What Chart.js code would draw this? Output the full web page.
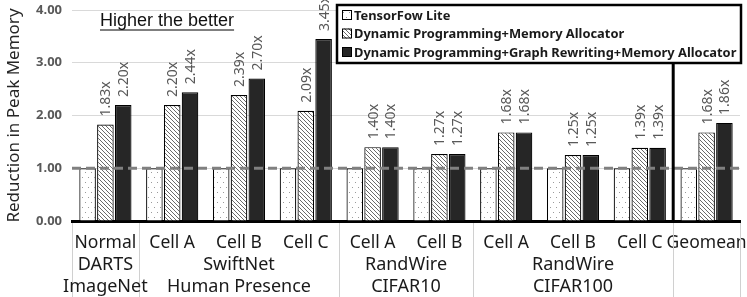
<!DOCTYPE html>
<html>
<head>
<meta charset="utf-8">
<script src="https://cdn.jsdelivr.net/npm/chart.js@4/dist/chart.umd.min.js"></script>
<style>
  html, body { margin: 0; padding: 0; background: #ffffff; }
  #memoryChart { display: block; }
</style>
</head>
<body>
<canvas id="memoryChart" width="747" height="297"></canvas>
<script>
// ---- data ----
const categories = ['Normal', 'Cell A', 'Cell B', 'Cell C', 'Cell A', 'Cell B', 'Cell A', 'Cell B', 'Cell C', 'Geomean'];
const groupStarts = [0, 1, 4, 6, 9];
const groupEnds = [0, 3, 5, 8, 9];
const groupLine2 = ['DARTS', 'SwiftNet', 'RandWire', 'RandWire', ''];
const groupLine3 = ['ImageNet', 'Human Presence', 'CIFAR10', 'CIFAR100', ''];
const seriesNames = ['TensorFow Lite', 'Dynamic Programming+Memory Allocator', 'Dynamic Programming+Graph Rewriting+Memory Allocator'];
const tfliteValues = [1.00, 1.00, 1.00, 1.00, 1.00, 1.00, 1.00, 1.00, 1.00, 1.00];
const dpValues = [1.83, 2.20, 2.39, 2.09, 1.40, 1.27, 1.68, 1.25, 1.39, 1.68];
const dpgrValues = [2.20, 2.44, 2.70, 3.45, 1.40, 1.27, 1.68, 1.25, 1.39, 1.86];
const yTicks = [0, 1, 2, 3, 4];
const baselineValue = 1;

// ---- fill patterns ----
function dotPattern() {
    const c = document.createElement('canvas');
    c.width = 6; c.height = 10;
    const g = c.getContext('2d');
    g.fillStyle = '#ffffff';
    g.fillRect(0, 0, 6, 10);
    g.fillStyle = '#9a9a9a';
    g.fillRect(1, 2, 1, 1);
    g.fillRect(4, 7, 1, 1);
    return g.createPattern(c, 'repeat');
}

function hatchPattern() {
    const c = document.createElement('canvas');
    c.width = 4; c.height = 4;
    const g = c.getContext('2d');
    g.fillStyle = '#ffffff';
    g.fillRect(0, 0, 4, 4);
    g.strokeStyle = '#6a6a6a';
    g.lineWidth = 1;
    g.beginPath();
    g.moveTo(-1, -1); g.lineTo(5, 5);
    g.moveTo(-1, 3); g.lineTo(1, 5);
    g.moveTo(3, -1); g.lineTo(5, 1);
    g.stroke();
    return g.createPattern(c, 'repeat');
}

const fills = [dotPattern(), hatchPattern(), '#262626'];

// value labels above DP bars, rotated
const barLabels = {
    id: 'barLabels',
    afterDatasetsDraw(chart) {
        const ctx = chart.ctx;
        ctx.save();
        ctx.font = '14px "Noto Sans"';
        ctx.fillStyle = '#595959';
        ctx.textAlign = 'left';
        ctx.textBaseline = 'middle';
        [1, 2].forEach(di => {
            const meta = chart.getDatasetMeta(di);
            meta.data.forEach((bar, i) => {
                const v = chart.data.datasets[di].data[i];
                ctx.save();
                ctx.translate(bar.x + 1, bar.y - 8);
                ctx.rotate(-Math.PI / 2);
                ctx.fillText(v.toFixed(2) + 'x', 0, 0);
                ctx.restore();
            });
        });
        ctx.restore();
    }
};

// dashed line at 1.00, separators, group labels, legend, note
const extras = {
    id: 'extras',
    afterDatasetsDraw(chart) {
        const ctx = chart.ctx;
        const y = chart.scales.y;
        const area = chart.chartArea;

        // baseline
        ctx.save();
        ctx.strokeStyle = '#808080';
        ctx.lineWidth = 3;
        ctx.setLineDash([9, 5]);
        ctx.beginPath();
        ctx.moveTo(area.left, y.getPixelForValue(baselineValue));
        ctx.lineTo(area.right, y.getPixelForValue(baselineValue));
        ctx.stroke();
        ctx.restore();
    },
    afterDraw(chart) {
        const ctx = chart.ctx;
        const x = chart.scales.x;
        const area = chart.chartArea;
        const step = x.getPixelForValue(1) - x.getPixelForValue(0);

        // separators below the axis
        ctx.save();
        ctx.strokeStyle = '#d0d0d0';
        ctx.lineWidth = 1;
        const bounds = [groupStarts[0] - 0.5].concat(groupEnds.map(e => e + 0.5));
        bounds.forEach(b => {
            const px = Math.round(x.getPixelForValue(0) + b * step) + 0.5;
            ctx.beginPath();
            ctx.moveTo(px, area.bottom + 2);
            ctx.lineTo(px, chart.height);
            ctx.stroke();
        });

        // group labels
        ctx.font = '18px "Noto Sans"';
        ctx.fillStyle = '#1a1a1a';
        ctx.textAlign = 'center';
        ctx.textBaseline = 'middle';
        groupStarts.forEach((s, gi) => {
            const cx = (x.getPixelForValue(s) + x.getPixelForValue(groupEnds[gi])) / 2;
            ctx.fillText(groupLine2[gi], cx, 265);
            ctx.fillText(groupLine3[gi], cx, 287);
        });
        ctx.restore();

        // legend box
        const lx = 337, ly = 5, lw = 404, lh = 58;
        ctx.save();
        ctx.fillStyle = '#ffffff';
        ctx.fillRect(lx, ly, lw, lh);
        ctx.strokeStyle = '#000000';
        ctx.lineWidth = 2.5;
        ctx.strokeRect(lx, ly, lw, lh);
        // shrink the legend font so the longest name fits the box
        let fs = 13;
        ctx.font = 'bold ' + fs + 'px "Noto Sans"';
        const longest = Math.max(...seriesNames.map(n => ctx.measureText(n).width));
        if (longest > 383) {
            fs = fs * 383 / longest;
            ctx.font = 'bold ' + fs.toFixed(2) + 'px "Noto Sans"';
        }
        ctx.textAlign = 'left';
        ctx.textBaseline = 'middle';
        seriesNames.forEach((name, i) => {
            const rowY = ly + 10 + i * 18.5;
            ctx.fillStyle = fills[i];
            ctx.fillRect(342, rowY - 5, 10, 10);
            ctx.strokeStyle = '#000000';
            ctx.lineWidth = 1;
            ctx.strokeRect(342.5, rowY - 4.5, 9, 9);
            ctx.fillStyle = '#1a1a1a';
            ctx.fillText(name, 354, rowY + 1);
        });
        ctx.restore();

        // thick divider before Geomean
        const dx = (x.getPixelForValue(8) + x.getPixelForValue(9)) / 2;
        ctx.save();
        ctx.strokeStyle = '#000000';
        ctx.lineWidth = 3;
        ctx.beginPath();
        ctx.moveTo(dx, ly + lh);
        ctx.lineTo(dx, area.bottom);
        ctx.stroke();

        // note
        ctx.font = '18px "Liberation Sans"';
        ctx.fillStyle = '#111111';
        ctx.textAlign = 'left';
        ctx.textBaseline = 'alphabetic';
        const note = 'Higher the better';
        ctx.fillText(note, 100, 26);
        const w = ctx.measureText(note).width;
        ctx.lineWidth = 1.2;
        ctx.beginPath();
        ctx.moveTo(100, 30);
        ctx.lineTo(100 + w, 30);
        ctx.stroke();
        ctx.restore();
    }
};

new Chart(document.getElementById('memoryChart'), {
    type: 'bar',
    data: {
        labels: categories,
        datasets: [
            {
                label: seriesNames[0],
                data: tfliteValues,
                backgroundColor: fills[0],
                borderColor: '#000000',
                borderWidth: 1.2
            },
            {
                label: seriesNames[1],
                data: dpValues,
                backgroundColor: fills[1],
                borderColor: '#000000',
                borderWidth: 1.2
            },
            {
                label: seriesNames[2],
                data: dpgrValues,
                backgroundColor: fills[2],
                borderColor: '#000000',
                borderWidth: 1.2
            }
        ]
    },
    options: {
        responsive: false,
        animation: false,
        devicePixelRatio: 1,
        layout: { padding: { top: 10, right: 7, left: 0, bottom: 0 } },
        datasets: {
            bar: { categoryPercentage: 0.8, barPercentage: 0.93 }
        },
        scales: {
            x: {
                grid: { display: false, drawTicks: false },
                border: { display: true, color: '#000000', width: 3 },
                ticks: {
                    color: '#1a1a1a',
                    font: { family: 'Noto Sans', size: 17.5 },
                    padding: 12,
                    maxRotation: 0,
                    autoSkip: false
                },
                afterFit(scale) {
                    scale.height = 76;
                    scale.paddingLeft = 0;
                    scale.paddingRight = 0;
                }
            },
            y: {
                min: 0,
                max: 4,
                afterBuildTicks(scale) { scale.ticks = yTicks.map(v => ({ value: v })); },
                grid: { color: '#d9d9d9', lineWidth: 1, drawTicks: false },
                border: { display: false },
                ticks: {
                    color: '#595959',
                    font: { family: 'Noto Sans', size: 13, weight: 'bold' },
                    padding: 10,
                    callback: v => v.toFixed(2)
                },
                title: {
                    display: true,
                    text: 'Reduction in Peak Memory',
                    color: '#262626',
                    font: { family: 'Noto Sans', size: 17 }
                },
                afterFit(scale) {
                    scale.width = 72;
                    scale.paddingTop = 0;
                    scale.paddingBottom = 0;
                }
            }
        },
        plugins: {
            legend: { display: false },
            tooltip: { enabled: false }
        }
    },
    plugins: [barLabels, extras]
});
</script>
</body>
</html>
